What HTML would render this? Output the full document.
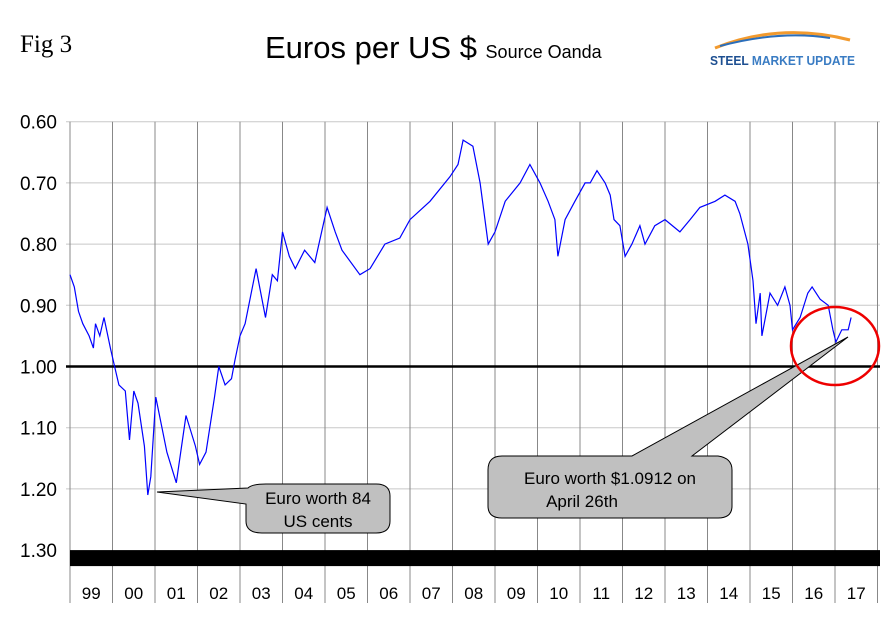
<!DOCTYPE html>
<html><head><meta charset="utf-8"><style>
body{margin:0;background:#fff;}
svg{display:block;font-family:"Liberation Sans",Arial,sans-serif;}
</style></head><body>
<svg width="894" height="622" viewBox="0 0 894 622">
<text x="20" y="52" font-family="Liberation Serif,serif" font-size="25">Fig 3</text>
<text x="265" y="58" font-size="31">Euros per US $ <tspan font-size="18">Source Oanda</tspan></text>
<g>
<path d="M715 48 Q780 22 850 40" stroke="#f29a2e" stroke-width="3" fill="none"/>
<path d="M720 46 Q780 30 830 38" stroke="#2a6ebb" stroke-width="2" fill="none"/>
<text x="710" y="65" font-size="13" font-weight="bold" fill="#1d4f91" textLength="145" lengthAdjust="spacingAndGlyphs">STEEL <tspan fill="#3a7cc3">MARKET UPDATE</tspan></text>
</g>
<g id="grid"></g>
<g id="axes"></g>
<polyline id="series" fill="none" stroke="#0000ff" stroke-width="1.2"/>
<g>
<path d="M157 492 L248 488 Q252 484 266 484 L376 484 Q390 484 390 496 L390 521 Q390 533 376 533 L262 533 Q246 533 246 521 L246 504 Z" fill="#c0c0c0" stroke="#000" stroke-width="1"/>
<text x="318" y="504" font-size="17" text-anchor="middle">Euro worth 84</text>
<text x="318" y="527" font-size="17" text-anchor="middle">US cents</text>
</g>
<g>
<path d="M848 337 L692 456 L718 456 Q732 458 732 470 L732 506 Q732 518 718 518 L502 518 Q488 518 488 506 L488 470 Q488 456 502 456 L632 456 Z" fill="#c0c0c0" stroke="#000" stroke-width="1"/>
<text x="610" y="484" font-size="17" text-anchor="middle">Euro worth $1.0912 on</text>
<text x="582" y="507" font-size="17" text-anchor="middle">April 26th</text>
</g>
<ellipse cx="835" cy="346" rx="44" ry="39" fill="none" stroke="#e00" stroke-width="2.5"/>
</svg>
<script>
const yearLabels=["99","00","01","02","03","04","05","06","07","08","09","10","11","12","13","14","15","16","17"];
const yTicks=[0.6,0.7,0.8,0.9,1.0,1.1,1.2,1.3];
const tYears=[0,0.1,0.2,0.3,0.45,0.55,0.6,0.7,0.8,0.95,1.05,1.15,1.3,1.4,1.5,1.6,1.75,1.83,1.9,2.02,2.28,2.5,2.73,2.95,3.05,3.2,3.4,3.5,3.65,3.8,3.88,4.0,4.12,4.38,4.6,4.76,4.88,5.0,5.16,5.3,5.52,5.76,6.05,6.24,6.4,6.82,7.06,7.41,7.76,8.0,8.47,8.94,9.13,9.25,9.48,9.65,9.84,10.0,10.24,10.59,10.82,11.06,11.25,11.41,11.48,11.65,11.88,12.12,12.24,12.4,12.59,12.71,12.8,12.94,13.06,13.22,13.41,13.53,13.76,14.0,14.35,14.59,14.82,15.18,15.41,15.65,15.76,15.95,16.07,16.14,16.24,16.28,16.47,16.65,16.82,16.94,17.0,17.18,17.36,17.46,17.65,17.84,17.95,18.02,18.16,18.31,18.38];
const values=[0.85,0.87,0.91,0.93,0.95,0.97,0.93,0.95,0.92,0.97,1.00,1.03,1.04,1.12,1.04,1.06,1.13,1.21,1.18,1.05,1.14,1.19,1.08,1.13,1.16,1.14,1.05,1.00,1.03,1.02,0.99,0.95,0.93,0.84,0.92,0.85,0.86,0.78,0.82,0.84,0.81,0.83,0.74,0.78,0.81,0.85,0.84,0.80,0.79,0.76,0.73,0.69,0.67,0.63,0.64,0.70,0.80,0.78,0.73,0.70,0.67,0.70,0.73,0.76,0.82,0.76,0.73,0.70,0.70,0.68,0.70,0.72,0.76,0.77,0.82,0.80,0.77,0.80,0.77,0.76,0.78,0.76,0.74,0.73,0.72,0.73,0.75,0.80,0.86,0.93,0.88,0.95,0.88,0.90,0.87,0.90,0.94,0.92,0.88,0.87,0.89,0.90,0.94,0.96,0.94,0.94,0.92];
const NS="http://www.w3.org/2000/svg";
const L=70,YW=42.5,T0=121.7,PX=61.2;
const xS=t=>L+t*YW, yS=v=>T0+(v-0.6)*10*PX;
function mk(tag,a,p){const e=document.createElementNS(NS,tag);for(const k in a)e.setAttribute(k,a[k]);p.appendChild(e);return e;}
const grid=document.getElementById('grid'),axes=document.getElementById('axes');
yTicks.forEach(v=>{
 if(v<1.3){const l=mk('line',{x1:L-4,x2:880,y1:yS(v),y2:yS(v),stroke:'#c8c8c8'},grid);
 
 }
 const t=mk('text',{x:57,y:yS(v)+7,'font-size':19,'text-anchor':'end'},axes);t.textContent=v.toFixed(2);
 
 
});
for(let i=0;i<=yearLabels.length;i++){
 const l=mk('line',{x1:xS(i),x2:xS(i),y1:T0,y2:603,stroke:'#888'},grid);
 
 
}
yearLabels.forEach((s,i)=>{const t=mk('text',{x:xS(i+0.5),y:599,'font-size':17,'text-anchor':'middle'},axes);t.textContent=s;
 
 });
const par=mk('line',{x1:L-4,x2:880,y1:yS(1.0),y2:yS(1.0),stroke:'#000','stroke-width':2.5},axes);


const bar=mk('rect',{x:L,y:yS(1.3),width:810,height:16,fill:'#000'},axes);


document.getElementById('series').setAttribute('points',tYears.map((t,i)=>xS(t).toFixed(1)+','+yS(values[i]).toFixed(1)).join(' '));
</script>
</body></html>
